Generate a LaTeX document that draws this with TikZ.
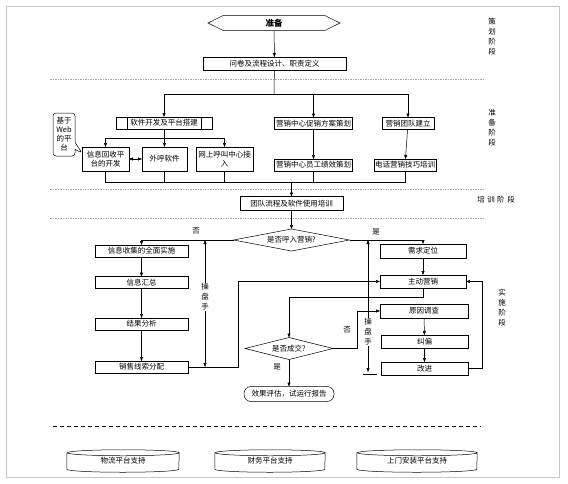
\documentclass[tikz,border=0pt]{standalone}
\usepackage{fontspec}
\setmainfont{Noto Sans CJK SC}
\usetikzlibrary{arrows.meta,shapes.geometric,shapes.callouts}
\newcommand{\boxfont}{\fontsize{7.5}{9}\selectfont}

\begin{document}
\begin{tikzpicture}[x=1pt,y=-1pt,line width=0.5pt,
  box/.style={draw,fill=white,inner sep=1pt,outer sep=0pt,minimum height=12,font=\boxfont},
  dec/.style={diamond,draw,fill=white,inner sep=0pt,outer sep=0pt,aspect=5,minimum height=22,font=\boxfont},
  arr/.style={-{Triangle[length=4pt,width=3pt]}},
  dbl/.style={{Triangle[length=4pt,width=3pt]}-{Triangle[length=4pt,width=3pt]}},
  sep/.style={gray!70,dash pattern=on 1.5pt off 1pt},
  phase/.style={align=center,font=\fontsize{7.5}{10}\selectfont},
  lbl/.style={font=\boxfont,inner sep=1pt}]
\useasboundingbox (0,0) rectangle (568,483);
\draw[gray!45] (6,6) rectangle (559,477);

% stage separators
\draw[sep] (50,79) -- (483,79);
\draw[sep] (50,189) -- (483,189);
\draw[sep] (50,218) -- (483,218);
\draw[line width=0.8pt,dash pattern=on 4pt off 3pt] (53,426) -- (481,426);

\node (ph1) at (492,37) [phase]{策\\划\\阶\\段};
\node (ph2) at (492,128) [phase]{准\\备\\阶\\段};
\node (ph3) at (496,200) [phase]{培\hspace{2.5pt}训\hspace{2.5pt}阶\hspace{2.5pt}段};
\node (ph4) at (502,308) [phase]{实\\施\\阶\\段};

% planning
\node (prep) at (274,23) [outer sep=0pt,minimum width=102,minimum height=13.5,font=\bfseries\fontsize{8.5}{10}\selectfont]{准备};
\draw (prep.north west) -- (prep.north east) -- ([xshift=15pt]prep.east) -- (prep.south east)
  -- (prep.south west) -- ([xshift=-15pt]prep.west) -- cycle;
\node (plan) at (274.5,63.5) [box,minimum width=143,minimum height=13]{问卷及流程设计、职责定义};

% preparation
\node (soft) at (164,123) [box,minimum width=96]{软件开发及平台搭建};
\draw ([xshift=11pt]soft.north west) -- ([xshift=11pt]soft.south west);
\draw ([xshift=-11pt]soft.north east) -- ([xshift=-11pt]soft.south east);
\node (promo) at (313.5,123.5) [box,minimum width=78]{营销中心促销方案策划};
\node (team) at (408,123.5) [box,minimum width=52]{营销团队建立};
\node (info) at (105.5,159) [box,minimum width=47,minimum height=24,align=center]{信息回收平\\台的开发};
\node (call) at (164.5,159) [box,minimum width=45,minimum height=24]{外呼软件};
\node (web) at (224.5,159) [box,minimum width=57,minimum height=24,align=center]{网上呼叫中心接\\入};
\node (note) at (64,134.5) [rectangle callout,draw,fill=white,rounded corners=3pt,inner sep=1pt,
  minimum width=22,minimum height=43,align=center,font=\boxfont,
  callout absolute pointer={([yshift=6pt]info.west)}]{基于\\Web\\的平\\台};
\node (staff) at (313.5,165) [box,minimum width=78]{营销中心员工绩效策划};
\node (phone) at (405,165) [box,minimum width=62]{电话营销技巧培训};

% training
\node (train) at (291.5,203.5) [box,minimum width=103,minimum height=14]{团队流程及软件使用培训};

% implementation
\node (ask) at (291.5,240) [dec,minimum width=116]{是否呼入营销?};
\node (collect) at (141.5,251) [box,minimum width=93]{信息收集的全面实施};
\node (summ) at (141.5,282.5) [box,minimum width=93]{信息汇总};
\node (anal) at (141.5,324) [box,minimum width=93]{结果分析};
\node (alloc) at (141.5,367) [box,minimum width=93]{销售线索分配};
\node (need) at (423,251) [box,minimum width=86,minimum height=14]{需求定位};
\node (active) at (423,281.5) [box,minimum width=86,minimum height=13]{主动营销};
\node (cause) at (424,311) [box,minimum width=88,minimum height=14]{原因调查};
\node (fix) at (424.5,341.5) [box,minimum width=87,minimum height=13]{纠偏};
\node (impr) at (424.5,368.5) [box,minimum width=87,minimum height=13]{改进};
\node (deal) at (289,348.5) [dec,aspect=4,minimum width=88]{是否成交?};
\node (eval) at (289,394) [box,rounded corners=7pt,minimum width=90,minimum height=15]{效果评估，试运行报告};

\node (no1) at (196,231) [lbl]{否};
\node (yes1) at (376,232) [lbl]{是};
\node (no2) at (347,330) [lbl]{否};
\node (yes2) at (277,367) [lbl]{是};

% support platforms
\node (logi) at (123,461) [minimum width=112,minimum height=22,font=\boxfont]{物流平台支持};
\node (fin) at (270,461) [minimum width=110,minimum height=22,font=\boxfont]{财务平台支持};
\node (inst) at (417,461) [minimum width=120,minimum height=22,font=\boxfont]{上门安装平台支持};
\foreach \n/\r in {logi/56,fin/55,inst/60}{
  \draw ([yshift=-3pt]\n.north west) -- ([yshift=3pt]\n.south west)
    arc[start angle=180,end angle=360,x radius=\r pt,y radius=3pt]
    -- ([yshift=-3pt]\n.north east)
    arc[start angle=0,end angle=360,x radius=\r pt,y radius=3pt];
}

% connectors
\coordinate (s1) at (274,94);
\coordinate (s2) at (164,138);
\coordinate (s3) at (291.5,182);
\draw[arr] (prep) -- (plan);
\draw (plan) -- (s1);
\draw[arr] (s1) -| (soft);
\draw[arr] (s1) -| (promo);
\draw[arr] (s1) -| (team);
\draw (soft) -- (s2);
\draw[arr] (s2) -| (info);
\draw[arr] (s2) -| (call);
\draw[arr] (s2) -| (web);
\draw[dbl] (info) -- (call);
\draw[arr] (promo) -- (staff);
\draw[arr] (team) -- (phone);
\draw (info) |- (s3);
\draw (call) |- (s3);
\draw (web) |- (s3);
\draw (staff) |- (s3);
\draw (phone) |- (s3);
\draw[arr] (s3) -- (train);
\draw[arr] (train) -- (ask);

\draw[arr] (ask) -| (collect);
\draw[arr] (collect) -- (summ);
\draw[arr] (summ) -- (anal);
\draw[arr] (anal) -- (alloc);
\draw[arr] (ask) -| (need);
\draw[arr] (need) -- (active);

\coordinate (s4) at (238,281.5);
\coordinate (s5) at (289,297);
\coordinate (s6) at (357,311);
\coordinate (s7) at (482,281.5);
\draw[arr] (alloc) -| (s4) -- (active);
\draw[arr] (active) |- (s5) -- (deal);
\draw[arr] (deal) -| (s6) -- (cause);
\draw[arr] (deal) -- (eval);
\draw[arr] (cause) -- (fix);
\draw[arr] (fix) -- (impr);
\draw[arr] (impr) -| (s7) -- (active);

% operators
\coordinate (op1a) at (205,240);
\coordinate (op1b) at (205,367);
\coordinate (op2a) at (368,240);
\coordinate (op2b) at (368,372);
\draw[dbl] (op1a) -- (op1b);
\draw[dbl] (op2a) -- (op2b);
\draw (363,374) -- (377,374);
\node (op1) at (205,297) [phase,fill=white,inner sep=1pt]{操\\盘\\手};
\node (op2) at (368,332) [phase,fill=white,inner sep=1pt]{操\\盘\\手};
\end{tikzpicture}
\end{document}
